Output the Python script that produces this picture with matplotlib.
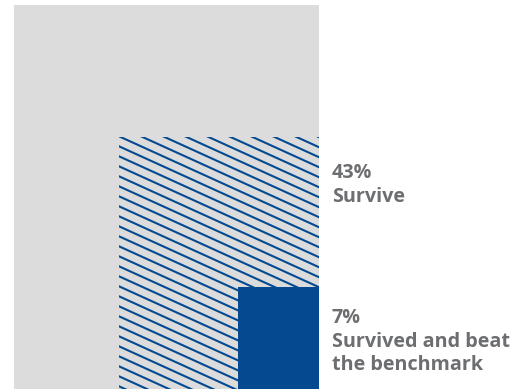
import numpy as np
import matplotlib.pyplot as plt
from matplotlib.patches import Rectangle

# share of funds (percent of all funds at start)
shares = [100, 43, 7]
labels = ['', '43%\nSurvive', '7%\nSurvived and beat\nthe benchmark']
fills = ['#dcdcdc', 'hatch', '#034a91']

W, H = 517, 389
fig = plt.figure(figsize=(W / 100, H / 100), dpi=100)
ax = fig.add_axes([14 / W, 0, 305 / W, 384 / H])
ax.set_xlim(0, 1)
ax.set_ylim(0, 1)
ax.axis('off')

ax_w, ax_h = 305, 384  # axes size in pixels
blue = '#034a91'
txt_col = '#6d6e71'
label_top = [None, 165, 310]  # pixel rows of the label tops

for share, lab, fill, top in zip(shares, labels, fills, label_top):
    s = np.sqrt(share / 100)
    x0 = 1 - s
    if fill == 'hatch':
        rect = Rectangle((x0, 0), s, s, facecolor='#dcdcdc', edgecolor='none')
        ax.add_patch(rect)
        # diagonal stripes, slope about -0.455 in pixels, 22 px apart
        step = 22
        slope = 10 / 22
        for c in np.arange(-900, 900, step):
            xs = np.array([-50, 400])
            ys = -slope * (xs - c)
            ln, = ax.plot(xs / ax_w + x0, ys / ax_h + s, color=blue, lw=1.5,
                          solid_capstyle='butt')
            ln.set_clip_path(rect)
    else:
        ax.add_patch(Rectangle((x0, 0), s, s, facecolor=fill, edgecolor='none'))
    if lab:
        fig.text(332 / W, 1 - (top - 2) / H, lab, ha='left', va='top',
                 fontsize=14.2, fontweight='bold', family='Open Sans',
                 color=txt_col, linespacing=1.24)

fig.savefig('out.png', dpi=100)
